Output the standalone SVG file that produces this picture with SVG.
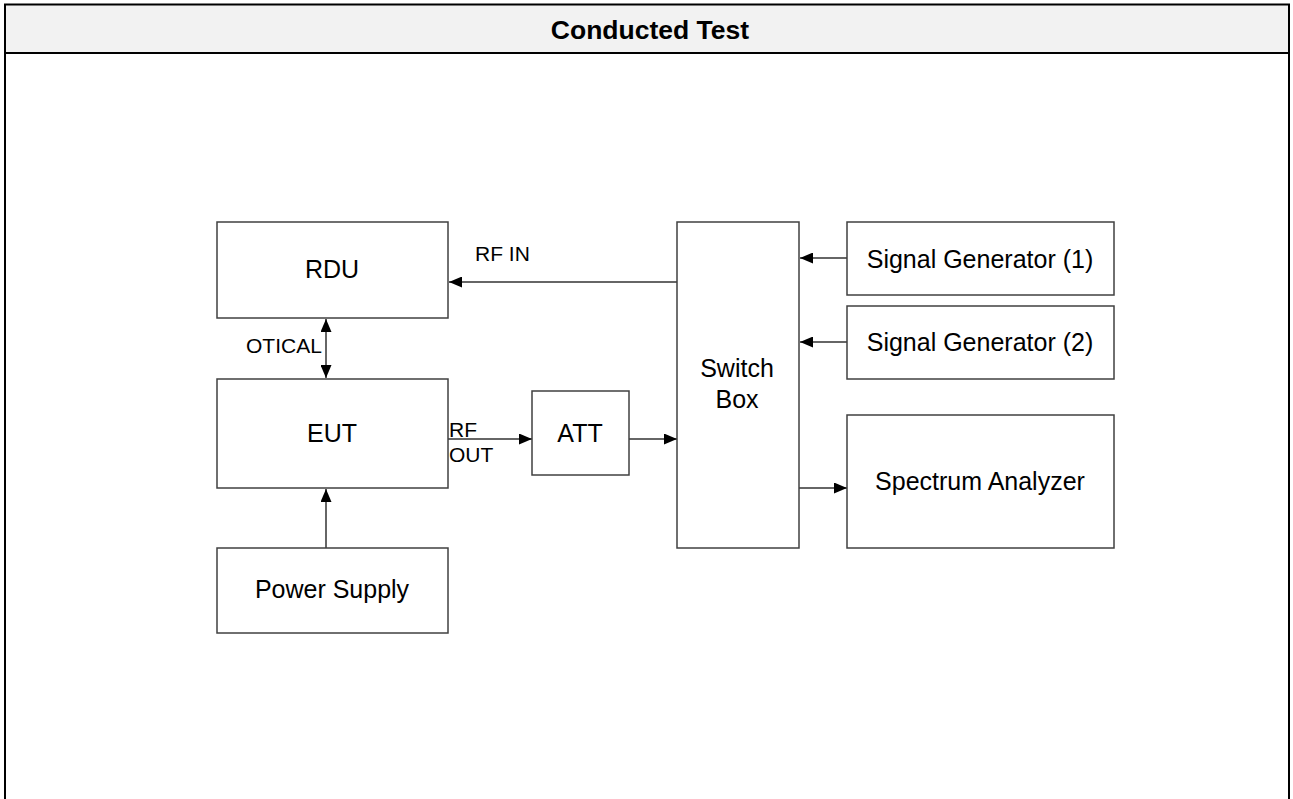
<svg xmlns="http://www.w3.org/2000/svg" width="1293" height="799" viewBox="0 0 1293 799">
<style>
.box{fill:#fff;stroke:#404040;stroke-width:1.5}
.t{font-family:"Liberation Sans",Arial,sans-serif;font-size:25px;fill:#000;text-anchor:middle}
.s{font-family:"Liberation Sans",Arial,sans-serif;font-size:21px;fill:#000}
.c{stroke:#333;stroke-width:1.5;fill:none}
</style>
<defs>
<marker id="ah" markerWidth="13" markerHeight="11" refX="13" refY="5.5" orient="auto-start-reverse" markerUnits="userSpaceOnUse">
<path d="M0,0 L13,5.5 L0,11 Z" fill="#000"/>
</marker>
</defs>
<g id="frame">
<rect x="4" y="4" width="1285" height="49" fill="#f2f2f2"/>
<path d="M5,800 V4.5 H1289 V800" fill="none" stroke="#000" stroke-width="2"/>
<line x1="4" y1="53" x2="1289" y2="53" stroke="#000" stroke-width="2"/>
<text x="650" y="39" style="font-family:'Liberation Sans',Arial,sans-serif;font-size:26.5px;font-weight:bold" text-anchor="middle">Conducted Test</text>
</g>
<g id="connectors">
<line class="c" x1="677" y1="282" x2="449" y2="282" marker-end="url(#ah)"/>
<line class="c" x1="326" y1="319" x2="326" y2="378" marker-start="url(#ah)" marker-end="url(#ah)"/>
<line class="c" x1="448" y1="439" x2="532" y2="439" marker-end="url(#ah)"/>
<line class="c" x1="629" y1="439" x2="677" y2="439" marker-end="url(#ah)"/>
<line class="c" x1="847" y1="258" x2="800" y2="258" marker-end="url(#ah)"/>
<line class="c" x1="847" y1="342" x2="800" y2="342" marker-end="url(#ah)"/>
<line class="c" x1="799" y1="488" x2="847" y2="488" marker-end="url(#ah)"/>
<line class="c" x1="326" y1="548" x2="326" y2="489" marker-end="url(#ah)"/>
<text class="s" x="475" y="261">RF IN</text>
<text class="s" x="246" y="353">OTICAL</text>
<text class="s" x="449" y="437">RF</text>
<text class="s" x="449" y="462">OUT</text>
</g>
<g id="rdu"><rect class="box" x="217" y="222" width="231" height="96"/><text class="t" x="332" y="278">RDU</text></g>
<g id="eut"><rect class="box" x="217" y="379" width="231" height="109"/><text class="t" x="332" y="442">EUT</text></g>
<g id="att"><rect class="box" x="532" y="391" width="97" height="84"/><text class="t" x="580" y="442">ATT</text></g>
<g id="power"><rect class="box" x="217" y="548" width="231" height="85"/><text class="t" x="332" y="598">Power Supply</text></g>
<g id="switch"><rect class="box" x="677" y="222" width="122" height="326"/><text class="t" x="737" y="377">Switch</text><text class="t" x="737" y="408">Box</text></g>
<g id="sg1"><rect class="box" x="847" y="222" width="267" height="73"/><text class="t" x="980" y="268">Signal Generator (1)</text></g>
<g id="sg2"><rect class="box" x="847" y="306" width="267" height="73"/><text class="t" x="980" y="351">Signal Generator (2)</text></g>
<g id="sa"><rect class="box" x="847" y="415" width="267" height="133"/><text class="t" x="980" y="490">Spectrum Analyzer</text></g>
</svg>
